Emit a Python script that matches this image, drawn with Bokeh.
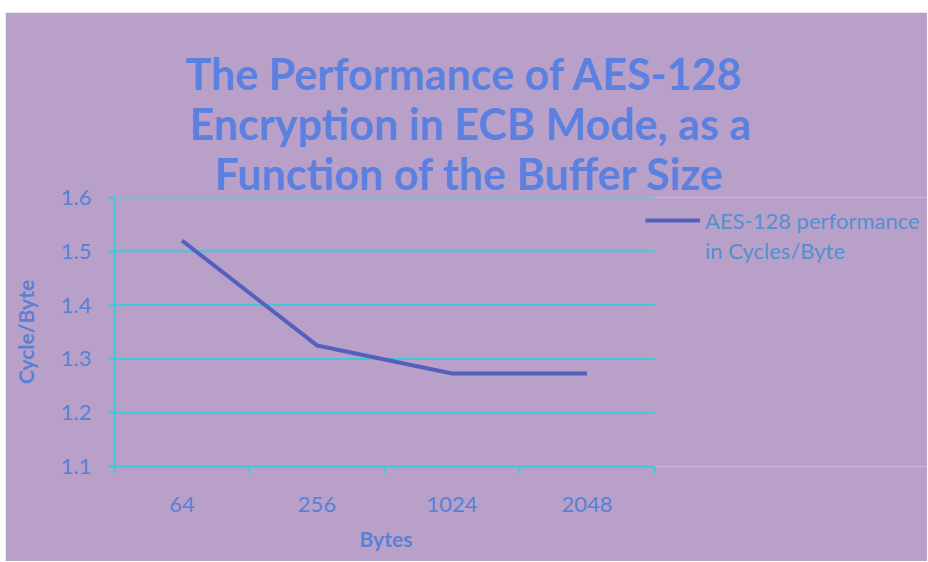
from bokeh.plotting import figure
from bokeh.models import FixedTicker, Legend, LegendItem, Title, ColumnDataSource
from bokeh.embed import file_html
from bokeh.resources import INLINE

categories = ["64", "256", "1024", "2048"]
values = [1.52, 1.325, 1.273, 1.273]
y_ticks = [1.1, 1.2, 1.3, 1.4, 1.5, 1.6]
title_lines = ["The Performance of AES-128",
               "Encryption in ECB Mode, as a",
               "Function of the Buffer Size"]
legend_lines = ["AES-128 performance", "in Cycles/Byte"]
x_title = "Bytes"
y_title = "Cycle/Byte"

BG = "#b8a0c8"
CYAN = "#40c8d8"
BLUE = "#5c80e0"
TXT = "#5880d6"
LEG_TXT = "#5290d0"
FONT = "Lato"

n = len(categories)
xs = [i + 0.5 for i in range(n)]
src = ColumnDataSource(dict(x=xs, y=values))
grid_src = ColumnDataSource(dict(x0=[0] * len(y_ticks), x1=[n] * len(y_ticks), y=y_ticks))

FRAME_W = 813      # pixel width of the drawing frame
AXIS_W = 540       # pixel width spanned by the category axis
p = figure(width=922, height=549, output_backend="svg", toolbar_location=None,
           x_range=(0, n * FRAME_W / AXIS_W), y_range=(1.1, 1.6),
           min_border_left=109, min_border_right=0, min_border_top=185, min_border_bottom=95)
p.styles = {"margin-left": "5px", "margin-top": "12px"}
p.background_fill_color = BG
p.border_fill_color = BG
p.outline_line_color = None

# titles: the first one added sits closest to the frame
for txt, off in zip(reversed(title_lines), [100, 75, 71]):
    p.add_layout(Title(text=txt, align="left", offset=off, text_font=FONT, text_font_size="43px",
                       text_font_style="bold", text_color=BLUE, text_line_height=1.0,
                       standoff=-3), "above")

p.segment(x0="x0", y0="y", x1="x1", y1="y", source=grid_src, line_color=CYAN, line_width=2)
r = p.line("x", "y", source=src, line_color="#5560bc", line_width=4)
r2 = p.line("x", "y", source=src, line_alpha=0)

# x axis
p.xaxis.bounds = (0, n)
p.xaxis.ticker = FixedTicker(ticks=xs, minor_ticks=list(range(n + 1)))
p.xaxis.major_label_overrides = {x: c for x, c in zip(xs, categories)}
p.xaxis.major_tick_line_color = None
p.xaxis.minor_tick_line_color = CYAN
p.xaxis.minor_tick_line_width = 2
p.xaxis.minor_tick_out = 7
p.xaxis.minor_tick_in = 0
p.xaxis.major_label_standoff = 23

# x axis title, centred under the category axis
p.add_layout(Title(text=x_title, align="left", offset=245, text_font=FONT,
                   text_font_size="21px", text_font_style="bold", text_color=TXT,
                   standoff=19), "below")

# y axis
p.yaxis.ticker = FixedTicker(ticks=y_ticks, minor_ticks=[])
p.yaxis.major_tick_line_color = CYAN
p.yaxis.major_tick_line_width = 2
p.yaxis.major_tick_out = 6
p.yaxis.major_tick_in = 0
p.yaxis.major_label_standoff = 17
p.yaxis.axis_label = y_title
p.yaxis.axis_label_standoff = 20

for ax in (p.xaxis[0], p.yaxis[0]):
    ax.axis_line_color = CYAN
    ax.axis_line_width = 2
    ax.major_label_text_font = FONT
    ax.major_label_text_font_size = "22px"
    ax.major_label_text_color = TXT
    ax.axis_label_text_font = FONT
    ax.axis_label_text_font_size = "21px"
    ax.axis_label_text_font_style = "bold"
    ax.axis_label_text_color = TXT

p.grid.grid_line_color = None

legend = Legend(items=[LegendItem(label=legend_lines[0], renderers=[r]),
                       LegendItem(label=legend_lines[1], renderers=[r2])],
                location=(531, 201), background_fill_alpha=0, border_line_color=None,
                glyph_width=55, glyph_height=14, padding=0, margin=0, spacing=0,
                label_standoff=5, label_text_font=FONT, label_text_font_size="22px",
                label_text_color=LEG_TXT, label_text_line_height=1.1, label_height=30)
p.add_layout(legend, "center")

open("out.html", "w").write(file_html(p, INLINE))
